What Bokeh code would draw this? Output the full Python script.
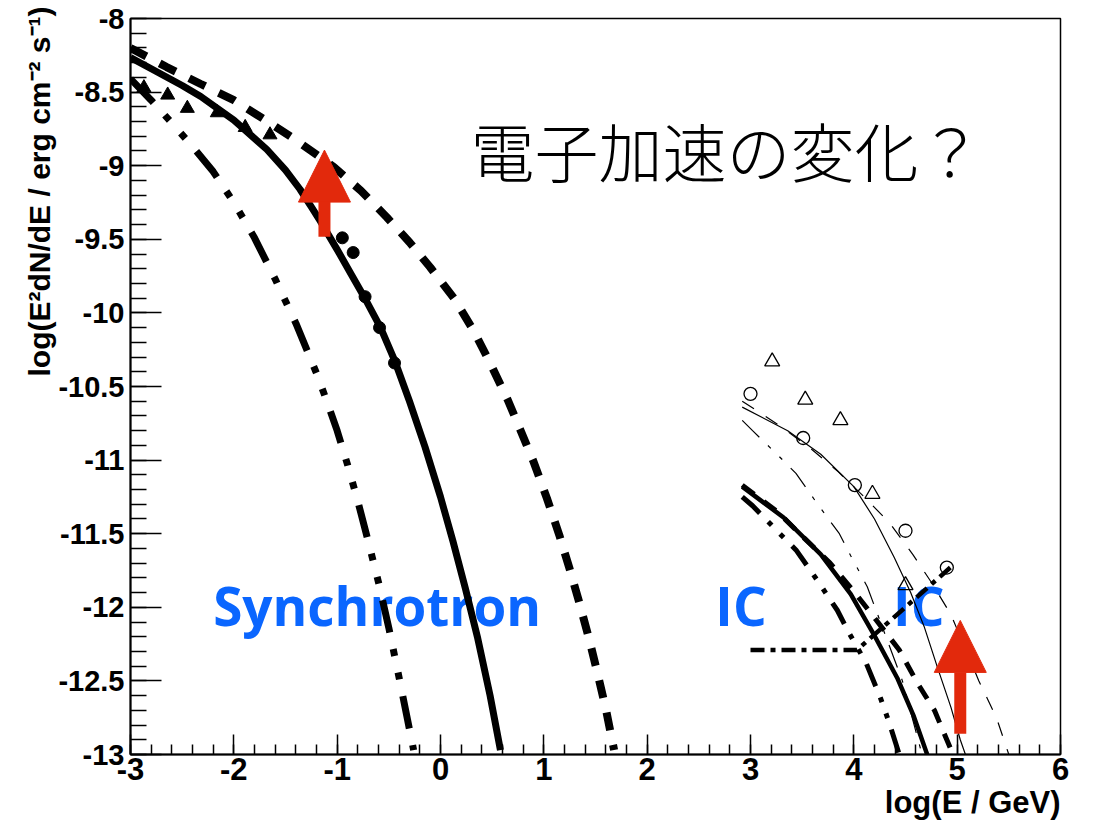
from bokeh.plotting import figure
from bokeh.models import Label, Arrow, NormalHead, FixedTicker, Title
from bokeh.embed import file_html
from bokeh.resources import INLINE

# ---------------- data ----------------
# Synchrotron model curves
sync_solid_x = [-3.0, -2.75, -2.5, -2.32, -2.0, -1.68, -1.5, -1.36, -1.25, -1.16, -1.0, -0.87, -0.74, -0.58, -0.44, -0.30, -0.15, 0.0, 0.12, 0.24, 0.36, 0.48, 0.58]
sync_solid_y = [-8.265, -8.36, -8.455, -8.53, -8.69, -8.89, -9.03, -9.16, -9.28, -9.38, -9.57, -9.73, -9.89, -10.10, -10.33, -10.60, -10.91, -11.25, -11.55, -11.87, -12.21, -12.60, -12.97]

sync_dash_x = [-3.0, -2.65, -2.32, -2.0, -1.65, -1.39, -1.03, -0.77, -0.52, -0.30, -0.10, 0.13, 0.32, 0.48, 0.65, 0.77, 0.90, 1.03, 1.15, 1.25, 1.34, 1.44, 1.52, 1.60, 1.68]
sync_dash_y = [-8.20, -8.33, -8.445, -8.555, -8.71, -8.83, -9.01, -9.17, -9.35, -9.52, -9.69, -9.90, -10.12, -10.34, -10.59, -10.79, -11.01, -11.26, -11.51, -11.74, -11.96, -12.22, -12.45, -12.69, -12.97]

sync_dd_x = [-3.0, -2.8, -2.6, -2.4, -2.2, -2.0, -1.8, -1.6, -1.4, -1.2, -1.1, -1.0, -0.9, -0.8, -0.7, -0.6, -0.5, -0.4, -0.32, -0.26]
sync_dd_y = [-8.41, -8.555, -8.71, -8.87, -9.04, -9.25, -9.49, -9.77, -10.07, -10.41, -10.60, -10.80, -11.03, -11.28, -11.55, -11.83, -12.14, -12.48, -12.76, -12.97]

# Synchrotron data points
tri_x = [-2.87, -2.64, -2.45, -2.16, -1.89, -1.65]
tri_y = [-8.47, -8.52, -8.61, -8.64, -8.74, -8.79]
dot_x = [-0.95, -0.845, -0.73, -0.59, -0.445]
dot_y = [-9.49, -9.59, -9.89, -10.10, -10.34]

# IC model curves (thick)
ic_solid_x = [2.92, 3.32, 3.68, 3.97, 4.19, 4.42, 4.58, 4.71]
ic_solid_y = [-11.18, -11.39, -11.64, -11.91, -12.18, -12.48, -12.74, -13.0]
ic_dash_x = [2.92, 3.26, 3.52, 3.77, 4.01, 4.22, 4.44, 4.62, 4.78, 4.96]
ic_dash_y = [-11.17, -11.35, -11.53, -11.70, -11.90, -12.09, -12.29, -12.52, -12.70, -13.0]
ic_dd_x = [2.92, 3.02, 3.27, 3.44, 3.64, 3.84, 3.95, 4.12, 4.26, 4.34, 4.44]
ic_dd_y = [-11.25, -11.31, -11.49, -11.61, -11.81, -12.02, -12.17, -12.38, -12.62, -12.78, -13.0]
ic_dashdot_x = [3.0, 4.03, 4.95]
ic_dashdot_y = [-12.29, -12.29, -11.72]

# IC model curves (thin)
ic_thin_solid_x = [2.92, 3.36, 3.68, 4.0, 4.2, 4.39, 4.55, 4.68, 4.81, 4.94, 5.03, 5.08]
ic_thin_solid_y = [-10.64, -10.80, -10.96, -11.18, -11.40, -11.66, -11.90, -12.13, -12.41, -12.68, -12.90, -13.0]
ic_thin_dash_x = [2.92, 3.27, 3.58, 3.85, 4.10, 4.35, 4.57, 4.75, 4.94, 5.21, 5.38, 5.50]
ic_thin_dash_y = [-10.60, -10.76, -10.92, -11.08, -11.25, -11.43, -11.64, -11.83, -12.05, -12.50, -12.75, -13.0]
ic_thin_dd_x = [2.92, 3.02, 3.27, 3.44, 3.65, 3.86, 3.97, 4.13, 4.47, 4.66]
ic_thin_dd_y = [-10.73, -10.80, -10.97, -11.09, -11.30, -11.50, -11.65, -11.86, -12.50, -13.0]

# IC data points
ocirc_x = [3.0, 3.51, 4.01, 4.50, 4.90]
ocirc_y = [-10.55, -10.85, -11.17, -11.48, -11.73]
otri_x = [3.21, 3.53, 3.87, 4.18, 4.50]
otri_y = [-10.33, -10.59, -10.73, -11.23, -11.85]

# arrows: (x, y_start, y_end)
arrow_x = [-1.123, 5.03]
arrow_y0 = [-9.483, -12.859]
arrow_y1 = [-8.894, -12.089]

# texts
x_ticks = [-3, -2, -1, 0, 1, 2, 3, 4, 5, 6]
x_tick_labels = ["-3", "-2", "-1", "0", "1", "2", "3", "4", "5", "6"]
y_ticks = [-13, -12.5, -12, -11.5, -11, -10.5, -10, -9.5, -9, -8.5, -8]
y_tick_labels = ["-13", "-12.5", "-12", "-11.5", "-11", "-10.5", "-10", "-9.5", "-9", "-8.5", "-8"]
x_title = "log(E / GeV)"
y_title = "log(E\u00b2dN/dE / erg cm\u207b\u00b2 s\u207b\u00b9)"
headline = "電子加速の変化？"
blue_texts = ["Synchrotron", "IC", "IC"]
blue_x = [-2.2, 2.66, 4.38]
blue_y = [-11.99, -11.99, -11.99]

# ---------------- figure ----------------
RED = "#E2290C"
BLUE = "#0A66FF"

p = figure(frame_width=930, frame_height=736, x_range=(-3, 6), y_range=(-13, -8),
           output_backend="svg", toolbar_location=None,
           min_border_left=130, min_border_right=33, min_border_top=18, min_border_bottom=73)
p.xgrid.visible = False
p.ygrid.visible = False
p.outline_line_color = "black"
p.outline_line_width = 1.5
p.background_fill_color = "white"
p.border_fill_color = "white"

minor_x = [round(-3 + 0.2 * i, 2) for i in range(46)]
minor_y = [round(-13 + 0.1 * i, 2) for i in range(51)]
p.xaxis.ticker = FixedTicker(ticks=x_ticks, minor_ticks=minor_x)
p.yaxis.ticker = FixedTicker(ticks=y_ticks, minor_ticks=minor_y)
p.xaxis.major_label_overrides = {float(v): l for v, l in zip(x_ticks, x_tick_labels)}
p.yaxis.major_label_overrides = {float(v): l for v, l in zip(y_ticks, y_tick_labels)}
for ax in (p.xaxis, p.yaxis):
    ax.major_tick_out = 0
    ax.minor_tick_out = 0
    ax.axis_line_width = 2
    ax.major_tick_line_width = 1.5
    ax.minor_tick_line_width = 1.5
    ax.major_label_text_font = "Liberation Sans"
    ax.major_label_text_font_style = "bold"
    ax.major_label_text_color = "black"
p.xaxis.major_label_text_font_size = "31px"
p.yaxis.major_label_text_font_size = "29px"
p.xaxis.major_tick_in = 20
p.xaxis.minor_tick_in = 10
p.yaxis.major_tick_in = 31
p.yaxis.minor_tick_in = 16
p.xaxis.major_label_standoff = 3
p.yaxis.major_label_standoff = 6

# axis titles (aligned to the ends, as in ROOT)
p.add_layout(Title(text=x_title, align="right", text_font="Liberation Sans", text_font_style="bold",
                   text_font_size="31px", text_color="black", standoff=0, offset=0), "below")
p.add_layout(Title(text=y_title, align="right", text_font="Liberation Sans", text_font_style="bold",
                   text_font_size="30px", text_color="black", standoff=0, offset=-12), "left")

# blue text placed beneath the curves
for txt, x, y in zip(blue_texts, blue_x, blue_y):
    p.add_layout(Label(x=x, y=y, text=txt, text_font="Open Sans", text_font_style="bold",
                       text_font_size="53px", text_color=BLUE, text_baseline="alphabetic",
                       text_align="left", level="underlay"))

p.add_layout(Label(x=0.29, y=-8.885, text=headline, text_font="'Noto Sans CJK JP Light', 'Noto Sans CJK JP'",
                   text_font_size="64px", text_color="black", text_baseline="middle",
                   text_align="left"))

# synchrotron curves
p.line(sync_solid_x, sync_solid_y, line_color="black", line_width=7, line_join="round")
p.line(sync_dash_x, sync_dash_y, line_color="black", line_width=8, line_dash="18 15")
p.line(sync_dd_x, sync_dd_y, line_color="black", line_width=7, line_dash="33 17 7 17 7 17")

# IC thin curves
p.line(ic_thin_solid_x, ic_thin_solid_y, line_color="black", line_width=1.2)
p.line(ic_thin_dash_x, ic_thin_dash_y, line_color="black", line_width=1.2, line_dash="14 14")
p.line(ic_thin_dd_x, ic_thin_dd_y, line_color="black", line_width=1.2, line_dash="24 12 4 12 4 12")

# IC thick curves
p.line(ic_solid_x, ic_solid_y, line_color="black", line_width=4.5, line_join="round")
p.line(ic_dash_x, ic_dash_y, line_color="black", line_width=5, line_dash="15 12")
p.line(ic_dd_x, ic_dd_y, line_color="black", line_width=5, line_dash="24 12 5 12 5 12")
p.line(ic_dashdot_x, ic_dashdot_y, line_color="black", line_width=4.5, line_dash="14 6 5 6")

# data points
p.scatter(tri_x, tri_y, marker="triangle", size=14, fill_color="black", line_color="black")
p.scatter(dot_x, dot_y, marker="circle", size=12, fill_color="black", line_color="black")
p.scatter(ocirc_x, ocirc_y, marker="circle", size=13, fill_alpha=0, line_color="black", line_width=1.3)
p.scatter(otri_x, otri_y, marker="triangle", size=15, fill_alpha=0, line_color="black", line_width=1.3)

# arrows
for x, y0, y1 in zip(arrow_x, arrow_y0, arrow_y1):
    p.add_layout(Arrow(x_start=x, y_start=y0, x_end=x, y_end=y1, line_color=RED, line_width=12,
                       end=NormalHead(size=52, fill_color=RED, line_color=RED, line_width=1)))

open("out.html", "w").write(file_html(p, INLINE))
